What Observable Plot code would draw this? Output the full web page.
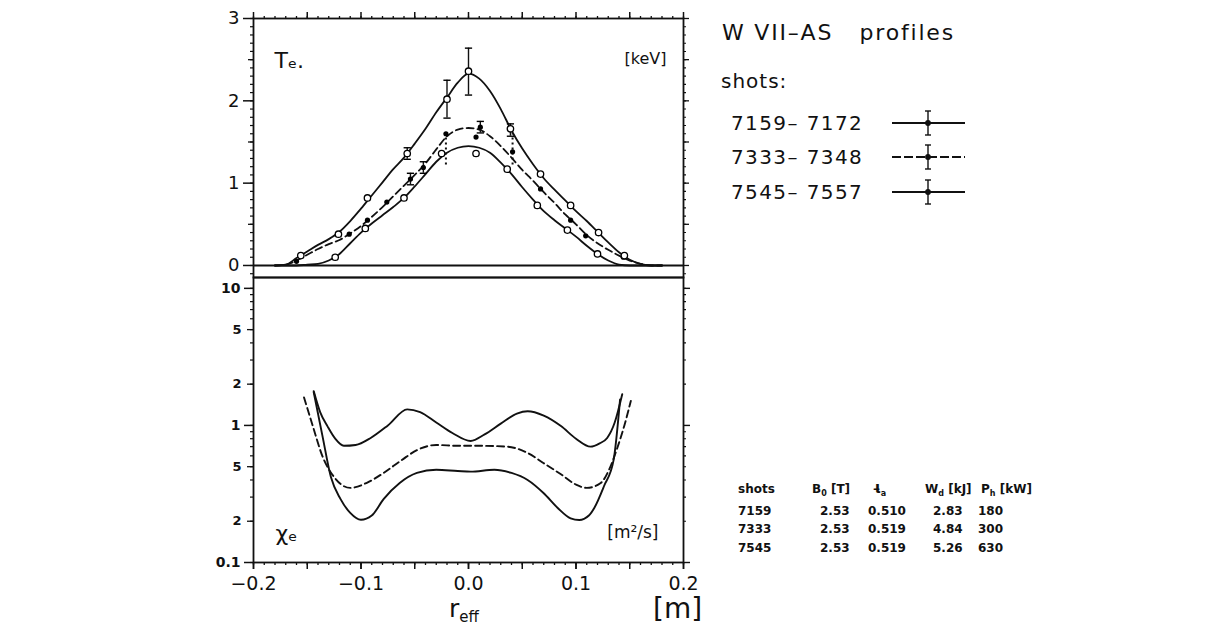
<!DOCTYPE html>
<html>
<head>
<meta charset="utf-8">
<script src="https://cdn.jsdelivr.net/npm/d3@7"></script>
<script src="https://cdn.jsdelivr.net/npm/@observablehq/plot@0.6"></script>
<style>
  html, body { margin: 0; padding: 0; background: #fff; }
  body { width: 1207px; height: 631px; position: relative; overflow: hidden; font-family: "DejaVu Sans", sans-serif; color: #111; }
  #te, #chi { position: absolute; left: 0; }
  #te { top: 0; }
  #chi { top: 267px; }
  #overlay { position: absolute; left: 0; top: 0; }
  #overlay text { white-space: pre; }
</style>
</head>
<body>
<div id="te"></div>
<div id="chi"></div>
<script>
// ---- Electron temperature T_e [keV] against effective radius [m] ----
const teRadius = [-0.18, -0.17, -0.16, -0.15, -0.14, -0.13, -0.12, -0.11, -0.10, -0.09, -0.08, -0.07,
  -0.06, -0.05, -0.04, -0.03, -0.02, -0.01, 0, 0.01, 0.02, 0.03, 0.04, 0.05, 0.06, 0.07, 0.08,
  0.09, 0.10, 0.11, 0.12, 0.13, 0.14, 0.15, 0.16, 0.17, 0.18];
const te7545 = [0, 0.01, 0.09, 0.17, 0.25, 0.32, 0.41, 0.54, 0.69, 0.85, 1.01, 1.17, 1.31, 1.48, 1.66,
  1.86, 2.04, 2.22, 2.33, 2.27, 2.12, 1.90, 1.64, 1.42, 1.23, 1.06, 0.92, 0.79, 0.66, 0.54, 0.41,
  0.28, 0.16, 0.07, 0.02, 0, 0];
const te7333 = [0, 0.01, 0.06, 0.13, 0.20, 0.26, 0.31, 0.39, 0.48, 0.59, 0.71, 0.84, 0.97, 1.10, 1.24,
  1.41, 1.57, 1.65, 1.67, 1.65, 1.57, 1.45, 1.31, 1.16, 1.03, 0.89, 0.76, 0.62, 0.50, 0.37, 0.27,
  0.19, 0.12, 0.06, 0.02, 0, 0];
const te7159 = [0, 0, 0, 0.01, 0.02, 0.06, 0.14, 0.27, 0.40, 0.51, 0.61, 0.71, 0.82, 0.96, 1.11,
  1.26, 1.37, 1.43, 1.45, 1.43, 1.37, 1.25, 1.11, 0.95, 0.80, 0.66, 0.55, 0.45, 0.35, 0.24, 0.14,
  0.06, 0.01, 0, 0, 0, 0];

// measured points on each profile
const ptR7545 = [-0.156, -0.121, -0.094, -0.057, -0.020, 0.000, 0.039, 0.067, 0.095, 0.121, 0.145];
const pt7545 = [0.12, 0.38, 0.82, 1.36, 2.02, 2.36, 1.66, 1.11, 0.73, 0.40, 0.12];
const ptR7333 = [-0.160, -0.111, -0.094, -0.076, -0.054, -0.042, -0.021, 0.007, 0.011, 0.041, 0.067, 0.095, 0.109, 0.144];
const pt7333 = [0.05, 0.38, 0.55, 0.77, 1.05, 1.19, 1.60, 1.56, 1.68, 1.38, 0.93, 0.55, 0.36, 0.10];
const ptR7159 = [-0.124, -0.096, -0.060, -0.025, 0.007, 0.036, 0.064, 0.092, 0.120];
const pt7159 = [0.10, 0.45, 0.82, 1.36, 1.36, 1.17, 0.73, 0.43, 0.14];

// error bars (solid and dotted)
const barR = [-0.057, -0.020, 0.000, 0.039, -0.054, -0.042, 0.011];
const barLo = [1.29, 1.79, 2.07, 1.57, 0.98, 1.12, 1.61];
const barHi = [1.43, 2.25, 2.64, 1.72, 1.12, 1.26, 1.75];
const dotBarR = [-0.021, 0.041];
const dotBarLo = [1.22, 1.22];
const dotBarHi = [1.62, 1.60];

// ---- Electron heat diffusivity chi_e [m^2/s] ----
const chiR7545 = [-0.144, -0.138, -0.131, -0.124, -0.116, -0.105, -0.091, -0.075, -0.057, -0.045, -0.030,
  -0.015, 0.002, 0.015, 0.030, 0.045, 0.055, 0.070, 0.086, 0.100, 0.1135, 0.122, 0.129, 0.136, 0.143];
const chi7545 = [1.78, 1.25, 0.98, 0.80, 0.71, 0.72, 0.81, 1.00, 1.31, 1.25, 1.05, 0.88, 0.77, 0.86,
  1.03, 1.22, 1.27, 1.18, 0.99, 0.80, 0.70, 0.74, 0.81, 1.05, 1.69];
const chiR7333 = [-0.153, -0.145, -0.136, -0.125, -0.110, -0.095, -0.079, -0.062, -0.048, -0.030, -0.010,
  0.010, 0.036, 0.055, 0.070, 0.086, 0.100, 0.110, 0.123, 0.131, 0.138, 0.145, 0.151];
const chi7333 = [1.60, 1.00, 0.60, 0.42, 0.35, 0.38, 0.45, 0.56, 0.66, 0.72, 0.71, 0.71, 0.70, 0.63,
  0.53, 0.44, 0.37, 0.35, 0.38, 0.48, 0.67, 1.00, 1.51];
const chiR7159 = [-0.144, -0.136, -0.128, -0.119, -0.110, -0.100, -0.090, -0.079, -0.064, -0.048, -0.030,
  -0.010, 0.002, 0.024, 0.040, 0.055, 0.070, 0.083, 0.095, 0.103, 0.112, 0.117, 0.126, 0.135, 0.141];
const chi7159 = [1.75, 0.85, 0.42, 0.29, 0.23, 0.205, 0.22, 0.29, 0.38, 0.45, 0.475, 0.465, 0.46, 0.475,
  0.45, 0.40, 0.32, 0.25, 0.21, 0.204, 0.22, 0.25, 0.36, 0.56, 1.55];

// ---- axis ticks ----
const xLabelTicks = [-0.2, -0.1, 0, 0.1, 0.2];
const xMajorTicks = [-0.2, -0.15, -0.1, -0.05, 0, 0.05, 0.1, 0.15, 0.2];
const xMinorTicks = d3.range(-20, 21).map(i => i / 100);
const teLabelTicks = [0, 1, 2, 3];
const teMidTicks = [0.5, 1.5, 2.5];
const teMinorTicks = d3.range(-1, 31).map(i => i / 10);
const chiDecadeTicks = [0.1, 1, 10];
const chiLabelTicks = [0.2, 0.5, 2, 5];
const chiMinorTicks = [0.1, 0.2, 0.3, 0.4, 0.5, 0.6, 0.7, 0.8, 0.9, 1, 2, 3, 4, 5, 6, 7, 8, 9, 10];

// ---- legend and shot table ----
const legendTitle = "W VII–AS   profiles";
const shotRanges = ["7159– 7172", "7333– 7348", "7545– 7557"];
const shotIds = ["7159", "7333", "7545"];
const fieldB0 = [2.53, 2.53, 2.53];
const iotaA = [0.510, 0.519, 0.519];
const energyWd = [2.83, 4.84, 5.26];
const heatingPh = [180, 300, 630];

const FONT = "DejaVu Sans, sans-serif";
const blank = () => "";
const capSymbol = {draw(ctx, size) { const w = Math.sqrt(size) * 0.85; ctx.moveTo(-w, 0); ctx.lineTo(w, 0); }};
const ident = d => d;

const tePlot = Plot.plot({
  width: 700, height: 277,
  marginLeft: 253, marginRight: 17, marginTop: 18, marginBottom: 0,
  style: {background: "transparent", overflow: "visible", fontFamily: FONT, color: "#111"},
  x: {domain: [-0.2, 0.2], axis: null},
  y: {domain: [-0.146, 3], axis: null},
  marks: [
    Plot.axisX({anchor: "top", ticks: xMinorTicks, tickSize: 3, tickFormat: blank, strokeWidth: 1.3, label: null}),
    Plot.axisX({anchor: "top", ticks: xMajorTicks, tickSize: 7, tickFormat: blank, strokeWidth: 1.5, label: null}),
    Plot.axisY({anchor: "left", ticks: teMinorTicks, tickSize: 3, tickFormat: blank, strokeWidth: 1.2, label: null}),
    Plot.axisY({anchor: "left", ticks: teMidTicks, tickSize: 5, tickFormat: blank, strokeWidth: 1.3, label: null}),
    Plot.axisY({anchor: "left", ticks: teLabelTicks, tickSize: 10, tickPadding: 4, tickFormat: d3.format("d"), fontSize: 18, strokeWidth: 1.5, label: null}),
    Plot.axisY({anchor: "right", ticks: teMinorTicks, tickSize: 2, tickFormat: blank, strokeWidth: 1.1, label: null}),
    Plot.axisY({anchor: "right", ticks: teMidTicks.concat(teLabelTicks), tickSize: 5, tickFormat: blank, strokeWidth: 1.3, label: null}),
    Plot.frame({strokeWidth: 1.8}),
    Plot.ruleY([0], {strokeWidth: 2.2}),
    Plot.line(te7545, {x: teRadius, y: ident, curve: "monotone-x", strokeWidth: 1.8}),
    Plot.line(te7333, {x: teRadius, y: ident, curve: "monotone-x", strokeWidth: 1.8, strokeDasharray: "7,4"}),
    Plot.line(te7159, {x: teRadius, y: ident, curve: "monotone-x", strokeWidth: 1.8}),
    Plot.ruleX(barR, {x: ident, y1: barLo, y2: barHi, strokeWidth: 1.4}),
    Plot.dot(barLo, {x: barR, y: ident, symbol: capSymbol, r: 2.4, stroke: "black", strokeWidth: 1.4}),
    Plot.dot(barHi, {x: barR, y: ident, symbol: capSymbol, r: 2.4, stroke: "black", strokeWidth: 1.4}),
    Plot.ruleX(dotBarR, {x: ident, y1: dotBarLo, y2: dotBarHi, strokeWidth: 2, strokeDasharray: "2,3"}),
    Plot.dot(pt7333, {x: ptR7333, y: ident, r: 2.6, fill: "black"}),
    Plot.dot(pt7545, {x: ptR7545, y: ident, r: 3.2, fill: "white", stroke: "black", strokeWidth: 1.3}),
    Plot.dot(pt7159, {x: ptR7159, y: ident, r: 3.2, fill: "white", stroke: "black", strokeWidth: 1.3}),
    Plot.text(["Tₑ."], {frameAnchor: "top-left", dx: 21, dy: 34, fontSize: 22, textAnchor: "start"}),
    Plot.text(["[keV]"], {frameAnchor: "top-right", dx: -17, dy: 34, fontSize: 16, textAnchor: "end"})
  ]
});
document.getElementById("te").append(tePlot);

const logLabel = v => v >= 1 ? d3.format("d")(v) : (v === 0.1 ? "0.1" : String(Math.round(v * 10)));

const chiPlot = Plot.plot({
  width: 700, height: 364,
  marginLeft: 253, marginRight: 17, marginTop: 10, marginBottom: 69,
  style: {background: "transparent", overflow: "visible", fontFamily: FONT, color: "#111"},
  x: {domain: [-0.2, 0.2], axis: null},
  y: {type: "log", domain: [0.1, 12], axis: null},
  marks: [
    Plot.axisX({anchor: "bottom", ticks: xMinorTicks, tickSize: 3, tickFormat: blank, strokeWidth: 1.3, label: null}),
    Plot.axisX({anchor: "bottom", ticks: xMajorTicks, tickSize: 7, tickFormat: blank, strokeWidth: 1.5, label: null}),
    Plot.axisX({anchor: "bottom", ticks: xLabelTicks, tickSize: 7, tickPadding: 7, tickFormat: d3.format(".1f"), fontSize: 19, strokeWidth: 1.5, label: null}),
    Plot.axisY({anchor: "left", ticks: chiMinorTicks, tickSize: 3, tickFormat: blank, strokeWidth: 1.2, label: null}),
    Plot.axisY({anchor: "left", ticks: chiLabelTicks, tickSize: 6, tickPadding: 6, tickFormat: logLabel, fontSize: 13, fontWeight: "bold", strokeWidth: 1.3, label: null}),
    Plot.axisY({anchor: "left", ticks: chiDecadeTicks, tickSize: 9, tickPadding: 4, tickFormat: logLabel, fontSize: 14, fontWeight: "bold", strokeWidth: 1.5, label: null}),
    Plot.axisY({anchor: "right", ticks: chiMinorTicks, tickSize: 2, tickFormat: blank, strokeWidth: 1.1, label: null}),
    Plot.axisY({anchor: "right", ticks: chiDecadeTicks, tickSize: 6, tickFormat: blank, strokeWidth: 1.4, label: null}),
    Plot.frame({strokeWidth: 1.8}),
    Plot.line(chi7545, {x: chiR7545, y: ident, curve: "monotone-x", strokeWidth: 1.9}),
    Plot.line(chi7333, {x: chiR7333, y: ident, curve: "monotone-x", strokeWidth: 1.9, strokeDasharray: "7,4"}),
    Plot.line(chi7159, {x: chiR7159, y: ident, curve: "monotone-x", strokeWidth: 1.9}),
    Plot.text(["χₑ"], {frameAnchor: "bottom-left", dx: 22, dy: -22, fontSize: 22, textAnchor: "start"}),
    Plot.text(["[m²/s]"], {frameAnchor: "bottom-right", dx: -25, dy: -25, fontSize: 17, textAnchor: "end"})
  ]
});
document.getElementById("chi").append(chiPlot);

// ---- overlay: axis title, legend, shot table ----
const svg = d3.select("body").append("svg")
  .attr("id", "overlay").attr("width", 1207).attr("height", 631)
  .style("font-family", FONT).attr("fill", "#111");

// x-axis title  r_eff  and unit
const rt = svg.append("text").attr("x", 449).attr("y", 617).attr("font-size", 25);
rt.append("tspan").text("r");
rt.append("tspan").attr("font-size", 15).attr("dy", 5).text("eff");
svg.append("text").attr("x", 653).attr("y", 618).attr("font-size", 28).text("[m]");

// legend
svg.append("text").attr("x", 722).attr("y", 40).attr("font-size", 22).attr("letter-spacing", 1.8).text(legendTitle);
svg.append("text").attr("x", 721).attr("y", 88).attr("font-size", 20).attr("letter-spacing", 1).text("shots:");
const rowY = [123, 157, 192];
shotRanges.forEach((s, i) => {
  const y = rowY[i];
  svg.append("text").attr("x", 731).attr("y", y + 7).attr("font-size", 20).attr("letter-spacing", 1.4).text(s);
  const g = svg.append("g").attr("stroke", "#111").attr("stroke-width", 1.8);
  g.append("line").attr("x1", 892).attr("x2", 965).attr("y1", y).attr("y2", y)
    .attr("stroke-dasharray", i === 1 ? "9,3" : null);
  g.append("line").attr("x1", 928).attr("x2", 928).attr("y1", y - 12).attr("y2", y + 12).attr("stroke-width", 1.4);
  g.append("line").attr("x1", 925).attr("x2", 931).attr("y1", y - 12).attr("y2", y - 12).attr("stroke-width", 1.4);
  g.append("line").attr("x1", 925).attr("x2", 931).attr("y1", y + 12).attr("y2", y + 12).attr("stroke-width", 1.4);
  g.append("circle").attr("cx", 928).attr("cy", y).attr("r", 2).attr("fill", "#111");
});

// table of shot parameters
const tab = svg.append("g").attr("font-size", 12).attr("font-weight", "bold");
const colX = [738, 812, 875, 925, 981];
const head = [["shots", ""], ["B", "0", " [T]"], ["ι\u0335", "a", ""], ["W", "d", " [kJ]"], ["P", "h", " [kW]"]];
head.forEach((h, j) => {
  const t = tab.append("text").attr("x", colX[j]).attr("y", 493);
  t.append("tspan").attr("font-size", j === 2 ? 15 : 12).text(h[0]);
  if (h[1]) {
    t.append("tspan").attr("font-size", 8).attr("dy", 3).text(h[1]);
    t.append("tspan").attr("dy", -3).text(h[2]);
  }
});
const valX = [738, 820, 868, 933, 978];
const rowsY = [515, 533, 552];
shotIds.forEach((id, i) => {
  const vals = [id, d3.format(".2f")(fieldB0[i]), d3.format(".3f")(iotaA[i]), d3.format(".2f")(energyWd[i]), String(heatingPh[i])];
  vals.forEach((v, j) => tab.append("text").attr("x", valX[j]).attr("y", rowsY[i]).text(v));
});
</script>
</body>
</html>
